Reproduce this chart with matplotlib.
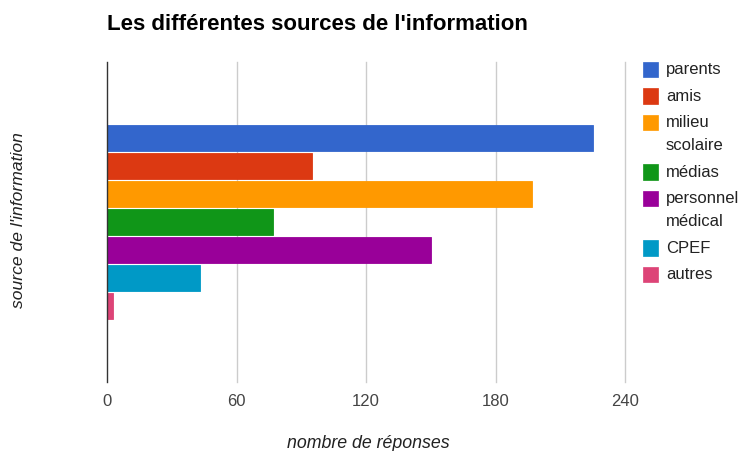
import matplotlib
matplotlib.use("Agg")
import matplotlib.pyplot as plt
from matplotlib.patches import Rectangle

plt.rcParams['font.family'] = ['Liberation Sans', 'DejaVu Sans']

# Data
series = ["parents", "amis", "milieu\nscolaire", "médias", "personnel\nmédical", "CPEF", "autres"]
values = [225, 95, 197, 77, 150, 43, 3]
colors = ["#3366cc", "#dc3912", "#ff9900", "#109618", "#990099", "#0099c6", "#dd4477"]
xticks = [0, 60, 120, 180, 240]
title = "Les différentes sources de l'information"
xlabel = "nombre de réponses"
ylabel = "source de l'information"

W, H = 745, 451
fig = plt.figure(figsize=(W / 100, H / 100), dpi=100)
left, right, top, bottom = 107, 625, 62, 382
ax = fig.add_axes([left / W, 1 - bottom / H, (right - left) / W, (bottom - top) / H])

n = len(series)
pitch = 28 / 320.0
bar_h = 26 / 320.0
center = 0.5
for i, (v, c) in enumerate(zip(values, colors)):
    y = center + (i - (n - 1) / 2) * pitch
    ax.barh(y, v, height=bar_h, color=c, edgecolor=c, linewidth=0.6)

ax.set_ylim(1, 0)
ax.set_xlim(0, 240)
ax.set_xticks(xticks)
ax.set_xticklabels([str(t) for t in xticks], color="#444444", fontsize=12)
ax.set_yticks([])
ax.tick_params(axis='x', length=0, pad=9)
for t in xticks[1:]:
    ax.axvline(t, color="#cccccc", linewidth=1, zorder=0, clip_on=False)
for s in ['top', 'right', 'bottom']:
    ax.spines[s].set_visible(False)
ax.spines['left'].set_color("#333333")
ax.spines['left'].set_linewidth(1)
ax.spines['left'].set_zorder(5)

fig.text(107 / W, 1 - 24 / H, title, fontsize=16, fontweight='bold', ha='left', va='center', color="#000000")
fig.text(368 / W, 1 - 443 / H, xlabel, fontsize=12.8, style='italic', ha='center', va='center', color="#222222")
fig.text(19 / W, 1 - 220 / H, ylabel, fontsize=12.6, style='italic', rotation=90, ha='center', va='center', color="#222222")

# Legend drawn manually
y_px = 61.7
sq = 15.5
for lab, c in zip(series, colors):
    fig.patches.append(Rectangle((642.5 / W, 1 - (y_px + sq) / H), sq / W, sq / H,
                                 transform=fig.transFigure, facecolor=c, edgecolor=c, linewidth=0.5))
    lines = lab.split("\n")
    for k, line in enumerate(lines):
        fig.text(666 / W, 1 - (y_px + sq / 2 + k * 22.8) / H, line, fontsize=12,
                 ha='left', va='center', color="#222222")
    y_px += 26.6 + 22.8 * (len(lines) - 1)

fig.savefig("out.png", dpi=100)
